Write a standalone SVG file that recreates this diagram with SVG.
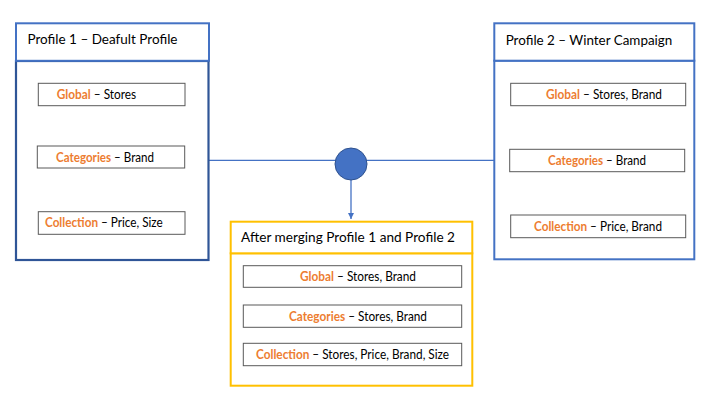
<svg xmlns="http://www.w3.org/2000/svg" width="709" height="409" viewBox="0 0 709 409">
<style>
.hdr{fill:#fff;stroke:#4472C4;stroke-width:2}
.bodyL{fill:#fff;stroke:#2F5597;stroke-width:2.2}
.bodyR{fill:#fff;stroke:#4472C4;stroke-width:2}
.y{fill:#fff;stroke:#FFC000;stroke-width:2}
.item{fill:#fff;stroke:#595959;stroke-width:1}
.t{font-family:Lato,"Liberation Sans",Arial,sans-serif;font-size:14px;fill:#000}
.s{font-family:Lato,"Liberation Sans",Arial,sans-serif;font-size:12.5px;fill:#000}
.o{fill:#ED7D31;font-weight:bold}
.ln{stroke:#4472C4;stroke-width:1.3;fill:none}
</style>
<defs>
<marker id="ah" markerWidth="8" markerHeight="8" refX="6" refY="4" orient="auto" markerUnits="userSpaceOnUse">
<path d="M0,1 L6,4 L0,7 Z" fill="#4472C4"/>
</marker>
</defs>
<rect width="709" height="409" fill="#fff"/>
<g id="connectors">
<line class="ln" x1="209" y1="160.3" x2="494" y2="160.3"/>
<line class="ln" x1="351" y1="180" x2="351" y2="219" marker-end="url(#ah)"/>
</g>
<g id="merge-node">
<circle cx="351" cy="164" r="16" fill="#4472C4" stroke="#2F528F" stroke-width="1"/>
</g>
<g id="profile1">
<rect class="bodyL" x="16" y="61" width="192.5" height="199"/>
<rect class="hdr" x="16" y="23.3" width="193" height="37.5"/>
<text class="t" x="27.5" y="43.8" textLength="150" lengthAdjust="spacingAndGlyphs">Profile 1 – Deafult Profile</text>
<rect class="item" x="38.3" y="83.3" width="146.7" height="22.4"/>
<text class="s" x="56.7" y="98.8" textLength="79.5" lengthAdjust="spacingAndGlyphs"><tspan class="o">Global</tspan> – Stores</text>
<rect class="item" x="37.3" y="146" width="147.4" height="22"/>
<text class="s" x="56" y="161.8" textLength="98" lengthAdjust="spacingAndGlyphs"><tspan class="o">Categories</tspan> – Brand</text>
<rect class="item" x="38.3" y="211.7" width="146.7" height="22.6"/>
<text class="s" x="45" y="227.3" textLength="117.7" lengthAdjust="spacingAndGlyphs"><tspan class="o">Collection</tspan> – Price, Size</text>
</g>
<g id="profile2">
<rect class="bodyR" x="494.3" y="60.7" width="200" height="198.6"/>
<rect class="hdr" x="494.3" y="23.3" width="200" height="37.4"/>
<text class="t" x="505.7" y="44.8" textLength="166.6" lengthAdjust="spacingAndGlyphs">Profile 2 – Winter Campaign</text>
<rect class="item" x="510.7" y="83.3" width="175" height="22.4"/>
<text class="s" x="546" y="98.8" textLength="116" lengthAdjust="spacingAndGlyphs"><tspan class="o">Global</tspan> – Stores, Brand</text>
<rect class="item" x="509.7" y="149.3" width="175" height="22.4"/>
<text class="s" x="548" y="164.8" textLength="98" lengthAdjust="spacingAndGlyphs"><tspan class="o">Categories</tspan> – Brand</text>
<rect class="item" x="510.7" y="215" width="175" height="22.7"/>
<text class="s" x="534" y="230.8" textLength="128" lengthAdjust="spacingAndGlyphs"><tspan class="o">Collection</tspan> – Price, Brand</text>
</g>
<g id="merged">
<rect class="y" x="230.7" y="253.3" width="241.6" height="132.4"/>
<rect class="y" x="230.7" y="221.7" width="241.6" height="31.6"/>
<text class="t" x="241" y="242.3" textLength="214" lengthAdjust="spacingAndGlyphs">After merging Profile 1 and Profile 2</text>
<rect class="item" x="243.3" y="265.7" width="218.4" height="21.6"/>
<text class="s" x="300" y="281.2" textLength="116" lengthAdjust="spacingAndGlyphs"><tspan class="o">Global</tspan> – Stores, Brand</text>
<rect class="item" x="243.3" y="305" width="218.4" height="22.3"/>
<text class="s" x="289" y="320.8" textLength="138" lengthAdjust="spacingAndGlyphs"><tspan class="o">Categories</tspan> – Stores, Brand</text>
<rect class="item" x="243.3" y="343.3" width="218.4" height="22.4"/>
<text class="s" x="256" y="359" textLength="193" lengthAdjust="spacingAndGlyphs"><tspan class="o">Collection</tspan> – Stores, Price, Brand, Size</text>
</g>
</svg>
